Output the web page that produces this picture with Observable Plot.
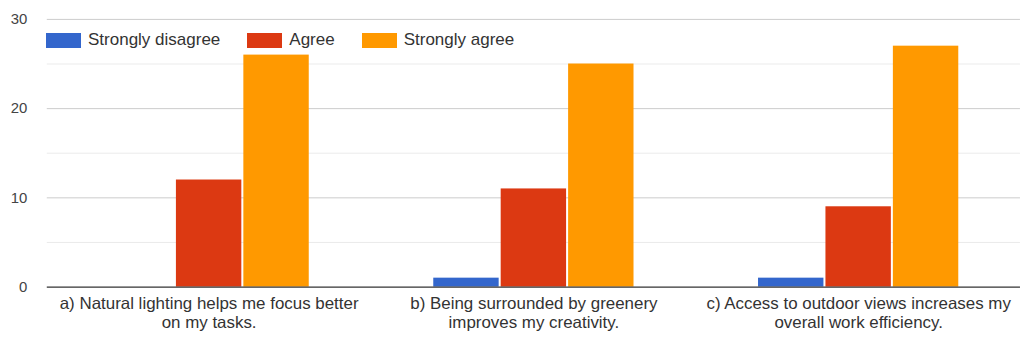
<!DOCTYPE html>
<html>
<head>
<meta charset="utf-8">
<script src="https://cdn.jsdelivr.net/npm/d3@7"></script>
<script src="https://cdn.jsdelivr.net/npm/@observablehq/plot@0.6"></script>
<style>
  html, body { margin: 0; padding: 0; background: #fff; }
  #wrap { position: relative; width: 1020px; height: 340px; overflow: hidden; font-family: "Liberation Sans", Arial, sans-serif; background: #fff; }
  #wrap svg { position: absolute; left: 0; top: 0; }
  #legend { position: absolute; left: 46px; top: 30px; display: flex; align-items: center; font-size: 17px; color: #333; }
  .item { display: flex; align-items: center; margin-right: 27px; }
  .sw { width: 35px; height: 15px; margin-right: 7px; }
</style>
</head>
<body>
<div id="wrap"></div>
<script>
const categories = [
  "a) Natural lighting helps me focus better on my tasks.",
  "b) Being surrounded by greenery improves my creativity.",
  "c) Access to outdoor views increases my overall work efficiency."
];
const tickLabels = [
  "a) Natural lighting helps me focus better\non my tasks.",
  "b) Being surrounded by greenery\nimproves my creativity.",
  "c) Access to outdoor views increases my\noverall work efficiency."
];
const responses = ["Strongly disagree", "Agree", "Strongly agree"];
const colors = ["#3366cc", "#dc3912", "#ff9900"];
const stronglyDisagree = [0, 1, 1];
const agree = [12, 11, 9];
const stronglyAgree = [26, 25, 27];
const yTicks = [0, 10, 20, 30];
const yMinorTicks = [5, 15, 25];

const series = [stronglyDisagree, agree, stronglyAgree];
const table = [];
categories.forEach((c, i) => {
  responses.forEach((r, j) => table.push({category: c, response: r, value: series[j][i]}));
});
const labelOf = new Map(categories.map((c, i) => [c, tickLabels[i]]));

const base = {
  width: 1025,
  height: 340,
  marginLeft: 47,
  marginRight: 0,
  marginTop: 19,
  marginBottom: 52,
  style: {fontFamily: "'Liberation Sans', Arial, sans-serif", background: "transparent"},
  y: {domain: [0, 30], axis: null}
};

// Layer 1: gridlines behind the bars
const gridLayer = Plot.plot({
  ...base,
  marks: [
    Plot.ruleY(yMinorTicks, {stroke: "#ebebeb"}),
    Plot.ruleY(yTicks.filter(d => d !== 0), {stroke: "#cccccc"})
  ]
});

// Layer 2: grouped bars (faceted by category) and category labels
const barLayer = Plot.plot({
  ...base,
  fx: {domain: categories, paddingInner: 0.3834, paddingOuter: 0.19, round: false, label: null, axis: null},
  x: {domain: responses, paddingInner: 0.03, paddingOuter: 0, round: false, axis: null},
  color: {domain: responses, range: colors},
  marks: [
    Plot.barY(table, {fx: "category", x: "response", y: "value", fill: "response"}),
    Plot.axisFx({anchor: "bottom", tickSize: 0, tickPadding: 8, fontSize: 17, lineHeight: 1.13, fill: "#333", tickFormat: d => labelOf.get(d), label: null})
  ]
});

// Layer 3: baseline and y tick labels on top
const topLayer = Plot.plot({
  ...base,
  marks: [
    Plot.ruleY([0], {stroke: "#333333", strokeWidth: 1.2}),
    Plot.text(yTicks, {y: d => d, text: d => String(d), frameAnchor: "left", dx: -20, textAnchor: "end", fontSize: 15, fill: "#444"})
  ]
});

const wrap = document.getElementById("wrap");
wrap.appendChild(gridLayer);
wrap.appendChild(barLayer);
wrap.appendChild(topLayer);

const legend = document.createElement("div");
legend.id = "legend";
responses.forEach((r, i) => {
  const it = document.createElement("div");
  it.className = "item";
  const sw = document.createElement("div");
  sw.className = "sw";
  sw.style.background = colors[i];
  const tx = document.createElement("span");
  tx.textContent = r;
  it.appendChild(sw);
  it.appendChild(tx);
  legend.appendChild(it);
});
wrap.appendChild(legend);
</script>
</body>
</html>
